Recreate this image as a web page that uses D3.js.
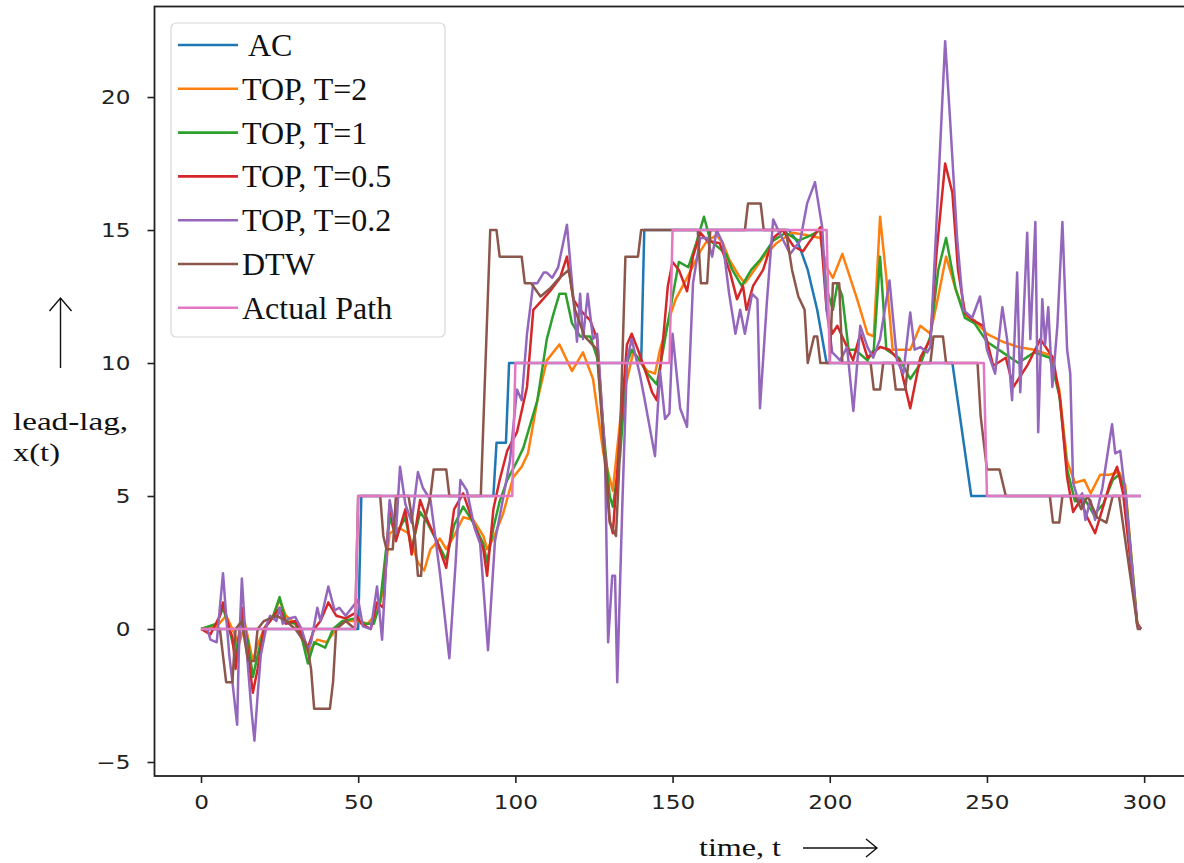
<!DOCTYPE html>
<html>
<head>
<meta charset="utf-8">
<script src="https://cdn.jsdelivr.net/npm/d3@7"></script>
<style>
  body { margin: 0; background: #fff; }
  svg { display: block; }
</style>
</head>
<body>
<div id="chart"></div>
<script>
// series names, legend order
var seriesNames = ["AC", "TOP, T=2", "TOP, T=1", "TOP, T=0.5", "TOP, T=0.2", "DTW", "Actual Path"];
var seriesColors = ["#1f77b4", "#ff7f0e", "#2ca02c", "#d62728", "#9467bd", "#8c564b", "#e377c2"];

var xTicks = [0, 50, 100, 150, 200, 250, 300];
var yTicks = [-5, 0, 5, 10, 15, 20];

// [t, x(t)] points
var acPath = [[0,0],[50,0],[51,5],[93,5],[94,7],[97,7],[98,10],[140,10],[141,15],[187,15],[190,14.5],[193,13.5],[196,12],[199,10],[239,10],[245,5],[299,5]];

var top2Path = [[0,0],[5,0.1],[8,0.5],[10,0],[12,-0.6],[14,0.2],[16.5,-1.2],[18,-0.6],[20,0],[23,0.5],[25,1.1],[27,0.5],[30,0.2],[34,-0.9],[37,-0.4],[40,-0.5],[43,0],[46,0.3],[50,0.3],[53,0.2],[56,0.6],[58,1.5],[60,3.6],[63,3.8],[66,3.6],[69,2.5],[71,2.2],[73,3],[76,3.4],[78,3.0],[80.5,3.5],[83.4,4.2],[86.6,4.1],[89.8,3.5],[91,3],[93,3.4],[96,4.3],[99.3,5.7],[102,6.1],[104,6.6],[107,8.6],[110,10.1],[114,10.7],[118,9.7],[121.5,10.4],[124.7,9.4],[128,6.6],[131,5.2],[134,8.6],[137.5,10.4],[142,9.7],[144.4,9.6],[146,10.5],[149,11.7],[151,12.4],[154.6,13.2],[158.8,14.2],[161,14.6],[164,14.8],[166,14.5],[168,13.9],[171,13.3],[173,13],[176,13.5],[179,14],[183,14.5],[188,14.9],[193,14.8],[197,14.7],[199,13.6],[201,13.2],[204,14.1],[208.7,12.4],[212,11.1],[214,11],[216,15.5],[218,13.2],[220,10.5],[225.6,10.5],[228.8,11.4],[232,11.1],[234.5,12.5],[237,14],[240,12.8],[243,11.8],[246,11.6],[250,11.1],[255,10.8],[260,10.6],[265,10.5],[270,10.3],[273,9],[275.5,6.3],[278,5.5],[281,5.6],[283,5.1],[286,5.8],[289,5.8],[292,5.9],[294,5.4],[297.8,0.2],[299,0]];

var top1Path = [[0,0],[5,0.2],[7,0.8],[9,0],[11,-1],[13,0.5],[15,-0.5],[16.5,-1.8],[18,-1],[20,0],[23,0.5],[25,1.2],[27,0.3],[30,0.2],[32,-0.3],[34,-1.3],[36,-0.5],[39.5,-0.7],[42,0],[45,0.3],[49,0.4],[52,0.2],[55,0.2],[57,1],[60,4.2],[62,3.5],[65,4.2],[67,3],[69.7,4.4],[72,4],[75,3.3],[78,2.6],[80.5,3.9],[83.4,4.6],[86.6,4],[89.8,3.2],[91,2.5],[93,3.8],[95,4.8],[97.4,5.6],[100.5,6.3],[102.5,6.8],[105,7.8],[107,8.6],[110,10.9],[112,11.8],[114,12.6],[116,12.6],[118,11.5],[120.6,11],[123.8,11],[126,10.2],[128,7.5],[130,5],[131,4.6],[133.3,6.5],[135.5,10],[137,10.5],[139,10.2],[142,9.6],[145,9.2],[147,10.5],[150,12.5],[152,13.8],[155,13.6],[157.5,14.5],[160,15.5],[162,14.6],[165,14.3],[167,14.1],[169,13.5],[172,12.9],[175,13.5],[178,13.9],[182,14.6],[186,14.9],[190,14.6],[194,14.8],[197,15],[199,12.8],[201,12],[202.5,13],[204,12.5],[206,10.5],[208,10.5],[210,10.3],[212,10.1],[214,10.5],[216,14],[218,10.5],[222,10.2],[225.6,9.4],[229,10],[232,11],[234.5,13.5],[237,14.7],[240,12.8],[243,11.7],[246,11.5],[250,10.8],[255,10.4],[260,10],[265,10.4],[270,10.2],[273,8.8],[275.5,6],[278,4.8],[281,4.9],[284,4.3],[287,4.7],[290,5.6],[292,5.8],[294,5.2],[297.8,0.2],[299,0]];

var top05Path = [[0,0],[3,-0.2],[6,0.5],[7,1.0],[9,0],[10,-0.3],[11,-1.5],[12,-0.5],[13,0.8],[14,0],[16.5,-2.4],[18,-1.5],[20,0],[22,0.3],[25,0.8],[27,0.2],[30,0.3],[32,-0.2],[34,-0.7],[36,0],[38,0.3],[40.5,1.0],[43,0.5],[46,0.4],[49,0.6],[51,0.2],[54,0],[56,1.0],[58,0.8],[60,4.7],[62,3.3],[65,4.5],[67,2.8],[69.7,4.85],[72,4.1],[75,3.3],[78,2.3],[80.5,4.5],[83.4,5.1],[86.6,4.0],[89.8,3.0],[91,2.0],[93,4.5],[95,5.6],[97.4,6.7],[100.5,7.4],[103.7,9.1],[105.7,12],[108.8,12.4],[111,12.7],[114.2,13.2],[116.4,14],[118.4,12.4],[120.6,12],[123.8,11.6],[126,10.9],[128,7.4],[130,4.1],[131,3.6],[133.3,7.4],[135.5,10.7],[137,11.1],[139,10.5],[141.9,9.5],[143.5,8.9],[145,8.6],[147,10.9],[148.5,12.9],[150,13.8],[152,13.5],[154.6,12.7],[156.5,14],[158.8,14.9],[161,14.6],[165,14.5],[168.3,13.4],[170.5,12.4],[172.4,12.9],[173.5,12],[175.6,12.9],[178.8,13.5],[182,14.7],[185,15],[188.4,14.4],[191.5,14.2],[193.8,14.6],[197,15.1],[199,12],[200.8,11.1],[202.4,11.4],[205.5,10.6],[207.4,10.1],[209.7,11.1],[212,10.2],[216,10.6],[219,10.5],[222,10.1],[225.6,8.3],[228.8,10.2],[232,10.9],[234,14.2],[236.7,17.5],[239,16.4],[240.8,13.5],[243,11.9],[245.6,11.6],[248.8,11.4],[252,9.9],[256,10.2],[258.4,9.1],[262.8,9.9],[267,10.9],[271,10.2],[273.3,8.6],[275.5,5.7],[277.4,4.4],[279.7,4.85],[281.9,4.2],[284.4,3.6],[286.7,4.5],[289.2,5.5],[291.4,6.1],[293.3,5.1],[297.8,0.2],[299,0]];

var top02Path = [[0,0],[2,0],[3,-0.4],[5,-0.5],[6,0.8],[7,2.1],[8,0.5],[9,-1],[10,-2],[11.5,-3.6],[12,-1],[13,1.9],[14,0],[15,-1.5],[16,-3],[17,-4.2],[18,-2.5],[19,-1],[21,0.2],[22,0.5],[24,0.3],[25,0.8],[26,0.2],[28,0.4],[30,0.45],[32,0],[34,-0.8],[35,-0.5],[37,0.8],[38,0.3],[40.5,1.6],[42.5,0.7],[44,0.8],[46,0.5],[48,0.8],[50,1.1],[51.5,0.1],[54,0],[56,1.6],[57.6,-0.4],[60,4.85],[62,3.6],[63.3,6.1],[65,4.7],[67,4],[69,5.9],[70.6,5.3],[73,4.85],[76,2.1],[79,-1.1],[81,2.5],[82.5,5.6],[84.6,5.2],[87,3.8],[88.8,3.2],[91.3,-0.8],[93.5,3.3],[96,4.85],[98.3,6.35],[100.5,9],[102,8.6],[103.7,11.1],[105.7,13],[107,13],[109,13.4],[110,13.4],[111.7,13.2],[113.6,13.6],[116.4,15.2],[118.4,12.5],[119.6,10.8],[120.6,12.6],[121.5,10.9],[123,12.6],[124.7,10.9],[126,11.1],[128.5,6.6],[129.5,-0.5],[130.8,2.0],[131.7,2.0],[132.4,-2.0],[134,4.6],[135.5,10.1],[137,10.9],[139.7,9.5],[141,8.7],[144.4,6.5],[146,9.7],[147.6,7.9],[149,8.1],[150,11.1],[152.4,8.3],[154.6,7.6],[156.5,13],[158.8,14.7],[161,14.7],[162.6,14],[164,15],[166,14.5],[168,12.6],[170,11.1],[171.5,12],[173,11.1],[175.3,12.6],[177,12.4],[177.8,8.3],[180,12.3],[182,15.4],[184,14.9],[187.4,14.1],[190.6,14.6],[192.8,16],[195.3,16.8],[197.6,15.1],[199,12],[200.8,10.4],[203.3,10.1],[205.5,10.6],[207.5,8.2],[209.7,11.4],[212,10.6],[213.8,10.2],[216,10.9],[219,13.1],[221.4,10.1],[223.4,9.6],[225.6,11.9],[227,10.5],[228.8,10.6],[231,10.4],[232,10.6],[234.5,16.6],[236.7,22.1],[238.3,19.1],[240.5,14.7],[242.5,12],[245.3,11.7],[247.8,12.5],[250,10.5],[252.6,9.6],[254.9,12.1],[256.4,10.9],[258,8.6],[259.6,13.4],[260.6,8.9],[262.8,14.9],[263.8,10.9],[265.4,15.3],[266.3,7.4],[267.6,12.4],[268.5,10.7],[269.5,12.1],[270.8,9.1],[272.4,11.4],[274,15.3],[275.5,10.5],[276.5,9.6],[277.4,5.5],[279,4.85],[280.3,5.1],[281.3,4.1],[282.9,4.85],[284.4,4.1],[286.7,5.3],[289.8,7.7],[290.8,6.6],[292.4,6.7],[294,5.1],[297.8,0.1],[299,0]];

var dtwPath = [[0,0],[6,0],[7,-1],[8,-2],[10,-2],[11,0],[13,0.3],[14,-0.5],[15,-1.2],[17,-1.2],[18,0],[20,0.3],[24,0.5],[27,0.3],[30,0],[33,-0.5],[34,-0.8],[35,-1.5],[36,-3],[41,-3],[42,-2],[43,0],[46,0.3],[49,0],[50,5],[57,5],[58,3.5],[59,3],[61,3],[62,5],[66,5],[68,3.5],[69,2],[70,2],[71,4],[73,5],[74,6],[78,6],[79,5],[89,5],[92,15],[94,15],[95,14],[102,14],[103,13],[105,13],[108,12.5],[111,12.8],[114,13.2],[117,13.5],[119,12],[122,11],[126,10.5],[128,7],[130,4],[132,3.5],[133,6],[134,10],[135,14],[139,14],[140,15],[158,15],[159,13],[161,13],[162,15],[173,15],[174,16],[178,16],[179,15],[186,15],[188,13.5],[190,12.5],[192,12],[193,10],[195,11],[196,11],[197,10],[200,10],[201,13],[203,13],[204,10],[213,10],[214,9],[216,9],[217,10],[220,10],[221,9],[224,9],[225,10],[232,10],[233,11],[236,11],[237,10],[247,10],[248,8],[250,6],[254,6],[256,5],[270,5],[271,4],[273,4],[274,5],[278,5],[280,4.5],[282,5],[285,4.2],[288,4],[290,5],[292,5],[298,0],[299,0]];

var actualPath = [[0,0],[49,0],[50,5],[99,5],[100,10],[149,10],[150,15],[199,15],[200,10],[249,10],[250,5],[299,5]];

var allPaths = [acPath, top2Path, top1Path, top05Path, top02Path, dtwPath, actualPath];

// ---- canvas
var width = 1184, height = 863;
var svg = d3.select("#chart").append("svg")
  .attr("width", width)
  .attr("height", height);

var x = d3.scaleLinear().domain([-14.95, 313.95]).range([154, 1188]);
var y = d3.scaleLinear().domain([-5.515, 23.415]).range([775.7, 6.2]);

// ---- axes
var tickFont = "'DejaVu Sans', sans-serif";
var stretch = 1.22; // tick labels in the picture are a bit wide

var xAxis = svg.append("g")
  .attr("transform", "translate(0,776)")
  .call(d3.axisBottom(x).tickValues(xTicks).tickSize(7).tickPadding(8).tickFormat(d3.format("d")));

var yAxis = svg.append("g")
  .attr("transform", "translate(154.5,0)")
  .call(d3.axisLeft(y).tickValues(yTicks).tickSize(7).tickPadding(17).tickFormat(d3.format("d")));

[xAxis, yAxis].forEach(function (g) {
  g.select(".domain").remove();
  g.selectAll("line").attr("stroke", "#222").attr("stroke-width", 1.6);
  g.selectAll("text")
    .attr("font-family", tickFont)
    .attr("font-size", 19)
    .attr("fill", "#222")
    .attr("transform", "scale(" + stretch + ",1)");
});
xAxis.selectAll("text").attr("dy", "0.95em");
yAxis.selectAll("text").attr("x", -24 / stretch);

// ---- lines
var line = d3.line()
  .x(function (d) { return x(d[0]); })
  .y(function (d) { return y(d[1]); });

svg.append("g").selectAll("path")
  .data(allPaths)
  .enter().append("path")
  .attr("d", line)
  .attr("fill", "none")
  .attr("stroke", function (d, i) { return seriesColors[i]; })
  .attr("stroke-width", 2.5)
  .attr("stroke-linejoin", "round");

// frame (spines)
svg.append("rect")
  .attr("x", 154.5)
  .attr("y", 6.5)
  .attr("width", 1188 - 154.5)
  .attr("height", 776 - 6.5)
  .attr("fill", "none")
  .attr("stroke", "#222")
  .attr("stroke-width", 1.8);

// ---- legend
var legend = svg.append("g");
legend.append("rect")
  .attr("x", 171)
  .attr("y", 23)
  .attr("width", 274)
  .attr("height", 314)
  .attr("rx", 5)
  .attr("fill", "#fff")
  .attr("fill-opacity", 0.85)
  .attr("stroke", "#d8d8d8")
  .attr("stroke-width", 1.2);

var rows = legend.selectAll("g.row")
  .data(seriesNames)
  .enter().append("g")
  .attr("class", "row")
  .attr("transform", function (d, i) { return "translate(0," + (45 + i * 43.8) + ")"; });

rows.append("line")
  .attr("x1", 178).attr("x2", 238)
  .attr("y1", 0).attr("y2", 0)
  .attr("stroke", function (d, i) { return seriesColors[i]; })
  .attr("stroke-width", 2.6);

rows.append("text")
  .attr("x", function (d, i) { return i === 0 ? 248 : 242; })
  .attr("y", 11)
  .attr("font-family", "'Liberation Serif', 'Times New Roman', serif")
  .attr("font-size", 32)
  .attr("fill", "#111")
  .text(function (d) { return d; });

// ---- axis labels with arrows
var serif = "'Liberation Serif', 'Times New Roman', serif";

svg.append("text")
  .attr("x", 13).attr("y", 430)
  .attr("font-family", serif).attr("font-size", 26)
  .attr("textLength", 115).attr("lengthAdjust", "spacingAndGlyphs")
  .attr("fill", "#111")
  .text("lead-lag,");

svg.append("text")
  .attr("x", 13).attr("y", 461)
  .attr("font-family", serif).attr("font-size", 26)
  .attr("textLength", 47).attr("lengthAdjust", "spacingAndGlyphs")
  .attr("fill", "#111")
  .text("x(t)");

svg.append("text")
  .attr("x", 699).attr("y", 856)
  .attr("font-family", serif).attr("font-size", 26)
  .attr("textLength", 82).attr("lengthAdjust", "spacingAndGlyphs")
  .attr("fill", "#111")
  .text("time, t");

var arrows = svg.append("g")
  .attr("fill", "none")
  .attr("stroke", "#111")
  .attr("stroke-width", 1.4);

// up arrow
arrows.append("path").attr("d", "M60.5,368 V298 M49.5,311 L60.5,298 L71.5,311");
// right arrow
arrows.append("path").attr("d", "M803,848 H877 M866,839 L877,848 L866,857");
</script>
</body>
</html>
